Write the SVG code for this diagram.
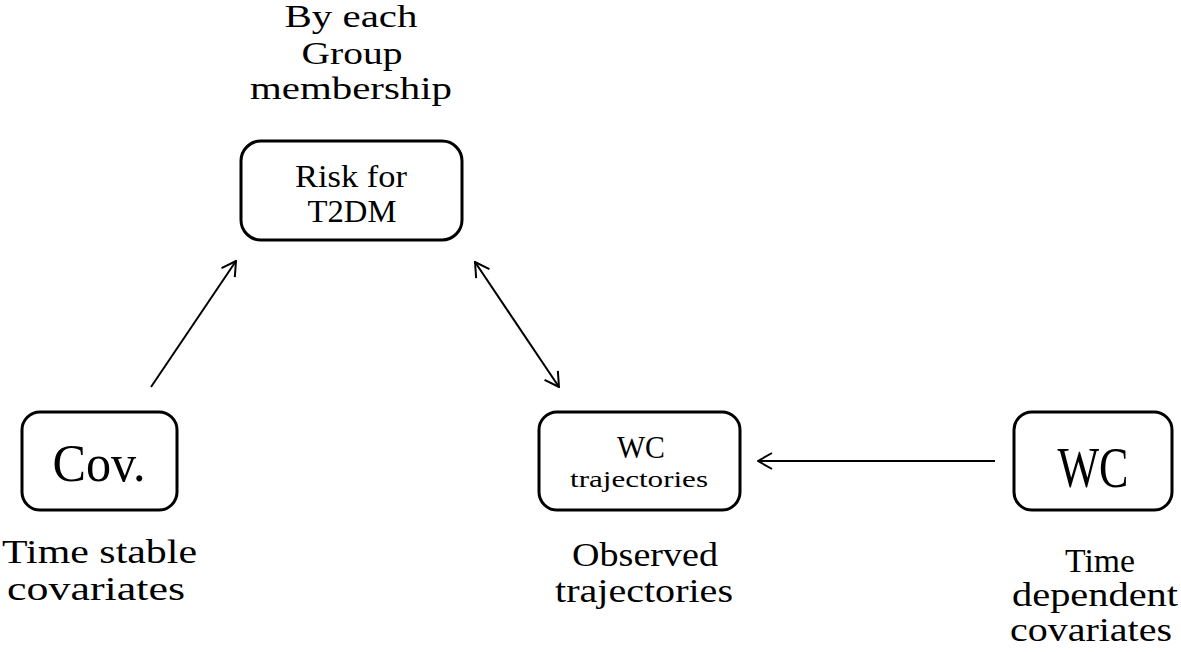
<svg xmlns="http://www.w3.org/2000/svg" width="1181" height="652" viewBox="0 0 1181 652">
<style>
  .box { fill: #ffffff; stroke: #000000; stroke-width: 3; }
  .t { font-family: "Liberation Serif", "Times New Roman", serif; fill: #000000; text-anchor: middle; }
  .lbl { font-size: 34px; }
  .conn { stroke: #000000; stroke-width: 2; fill: none; }
</style>
<defs>
  <marker id="arr" viewBox="0 0 16 18" refX="15" refY="9" markerWidth="16" markerHeight="18" markerUnits="userSpaceOnUse" orient="auto-start-reverse">
    <path d="M1,1 L15,9 L1,17" fill="none" stroke="#000000" stroke-width="2"/>
  </marker>
</defs>
<rect width="1181" height="652" fill="#ffffff"/>

<g id="label-group">
  <text class="t" x="351" y="27" font-size="31" textLength="133" lengthAdjust="spacingAndGlyphs">By each</text>
  <text class="t" x="352" y="64" font-size="31" textLength="101" lengthAdjust="spacingAndGlyphs">Group</text>
  <text class="t" x="351" y="99" font-size="31" textLength="202" lengthAdjust="spacingAndGlyphs">membership</text>
</g>

<g id="node-risk">
  <rect class="box" x="241" y="141" width="221" height="99" rx="20"/>
  <text class="t" x="351" y="187" font-size="31" textLength="112" lengthAdjust="spacingAndGlyphs">Risk for</text>
  <text class="t" x="352" y="222" font-size="31" textLength="89" lengthAdjust="spacingAndGlyphs">T2DM</text>
</g>

<g id="node-cov">
  <rect class="box" x="22" y="412" width="155" height="98" rx="18"/>
  <text class="t" x="99" y="481" font-size="52" textLength="93" lengthAdjust="spacingAndGlyphs">Cov.</text>
  <text class="t lbl" x="99.5" y="563" textLength="195" lengthAdjust="spacingAndGlyphs">Time stable</text>
  <text class="t lbl" x="96" y="600" textLength="178" lengthAdjust="spacingAndGlyphs">covariates</text>
</g>

<g id="node-wctraj">
  <rect class="box" x="539" y="412" width="201" height="98" rx="18"/>
  <text class="t" x="641" y="458" font-size="31" textLength="48" lengthAdjust="spacingAndGlyphs">WC</text>
  <text class="t" x="639" y="487" font-size="24" textLength="138" lengthAdjust="spacingAndGlyphs">trajectories</text>
  <text class="t lbl" x="645" y="566" textLength="146" lengthAdjust="spacingAndGlyphs">Observed</text>
  <text class="t lbl" x="644" y="602" textLength="178" lengthAdjust="spacingAndGlyphs">trajectories</text>
</g>

<g id="node-wc">
  <rect class="box" x="1014" y="412" width="158" height="98" rx="18"/>
  <text class="t" x="1093" y="487" font-size="56" textLength="71" lengthAdjust="spacingAndGlyphs">WC</text>
  <text class="t lbl" x="1100" y="572" textLength="70" lengthAdjust="spacingAndGlyphs">Time</text>
  <text class="t lbl" x="1095" y="606" textLength="166" lengthAdjust="spacingAndGlyphs">dependent</text>
  <text class="t lbl" x="1091" y="641" textLength="162" lengthAdjust="spacingAndGlyphs">covariates</text>
</g>

<g id="connectors">
  <line class="conn" x1="151" y1="387" x2="236" y2="261" marker-end="url(#arr)"/>
  <line class="conn" x1="475" y1="262" x2="559" y2="387" marker-start="url(#arr)" marker-end="url(#arr)"/>
  <line class="conn" x1="995" y1="461" x2="758" y2="461" marker-end="url(#arr)"/>
</g>
</svg>
